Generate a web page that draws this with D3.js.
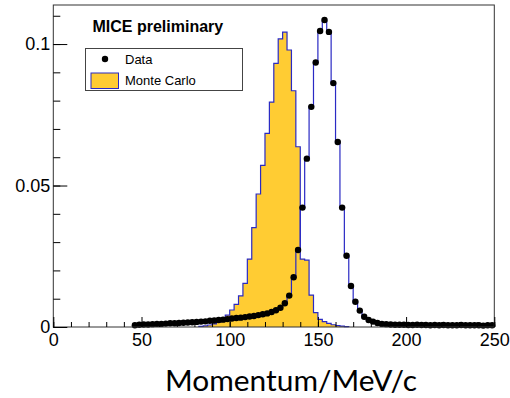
<!DOCTYPE html>
<html>
<head>
<meta charset="utf-8">
<script src="https://cdn.jsdelivr.net/npm/d3@7/dist/d3.min.js"></script>
<style>
  html, body { margin: 0; padding: 0; background: #fff; }
  svg { display: block; }
</style>
</head>
<body>
<svg id="chart" width="510" height="398"></svg>
<script>
// ---- Histogram binning (MeV/c) ----
const BIN_WIDTH = 2.5;
const DATA_FIRST_BIN = 45;      // low edge of the first filled data bin
const MC_FIRST_BIN = 82.5;      // low edge of the first filled Monte Carlo bin

// Normalised data counts, one per 2.5 MeV/c bin starting at DATA_FIRST_BIN
const dataValues = [
  0.0006, 0.0008, 0.0009, 0.0009, 0.0010, 0.0011, 0.0011, 0.0012, 0.0013, 0.0013,
  0.0014, 0.0015, 0.0016, 0.0017, 0.0018, 0.0019, 0.0020, 0.0022, 0.0023, 0.0025,
  0.0026, 0.0028, 0.0030, 0.0032, 0.0033, 0.0035, 0.0037, 0.0039, 0.0042, 0.0045,
  0.0048, 0.0053, 0.0059, 0.0068, 0.0084, 0.0111, 0.0176, 0.0272, 0.0422, 0.0595,
  0.0778, 0.0935, 0.1046, 0.1085, 0.1043, 0.0862, 0.0654, 0.0422, 0.0252, 0.0145,
  0.0089, 0.0058, 0.0036, 0.0025, 0.0019, 0.0014, 0.0011, 0.0010, 0.0009, 0.0008,
  0.0008, 0.0008, 0.0007, 0.0007, 0.0008, 0.0007, 0.0007, 0.0006, 0.0007, 0.0006,
  0.0007, 0.0006, 0.0006, 0.0006, 0.0007, 0.0006, 0.0006, 0.0006, 0.0006, 0.0005,
  0.0006, 0.0006
];

// Normalised Monte Carlo counts, one per bin starting at MC_FIRST_BIN
const mcValues = [
  0.0002, 0.0004, 0.0007, 0.0011, 0.0018, 0.0028, 0.0042, 0.0060, 0.0080, 0.0110,
  0.0154, 0.0240, 0.0351, 0.0470, 0.0571, 0.0684, 0.0795, 0.0932, 0.1018, 0.1042,
  0.0979, 0.0835, 0.0637, 0.0240, 0.0236, 0.0113, 0.0051, 0.0027, 0.0019, 0.0013,
  0.0008, 0.0005, 0.0003, 0.0001
];

// ---- Axes ----
const xDomain = [0, 250];
const yDomain = [0, 0.1138];
const xMajorTicks = [0, 50, 100, 150, 200, 250];
const xTickLabels = ["0", "50", "100", "150", "200", "250"];
const xMinorTicks = [0, 10, 20, 30, 40, 50, 60, 70, 80, 90, 100, 110, 120, 130, 140, 150,
                     160, 170, 180, 190, 200, 210, 220, 230, 240, 250];
const yMajorTicks = [0, 0.05, 0.1];
const yTickLabels = ["0", "0.05", "0.1"];
const yMinorTicks = [0, 0.01, 0.02, 0.03, 0.04, 0.05, 0.06, 0.07, 0.08, 0.09, 0.1, 0.11];

const xTitle = "Momentum/MeV/c";
const watermark = "MICE preliminary";
const legendLabels = ["Data", "Monte Carlo"];

// ---- Style ----
const MC_FILL = "#ffcc33";
const HIST_LINE = "#2a2ac4";
const AXIS_FONT = "'Liberation Sans', Arial, Helvetica, sans-serif";

const plot = { left: 53.3, right: 494.3, top: 5, bottom: 327 };

const svg = d3.select("#chart");

const x = d3.scaleLinear().domain(xDomain).range([plot.left, plot.right]);
const y = d3.scaleLinear().domain(yDomain).range([plot.bottom, plot.top]);

// Turn a list of bin contents into the corner points of a step outline
function stepPoints(firstEdge, values) {
  const pts = [[firstEdge, 0]];
  values.forEach((v, i) => {
    const lo = firstEdge + i * BIN_WIDTH;
    pts.push([lo, v], [lo + BIN_WIDTH, v]);
  });
  pts.push([firstEdge + values.length * BIN_WIDTH, 0]);
  return pts;
}

const line = d3.line().x(d => x(d[0])).y(d => y(d[1]));
const area = d3.area().x(d => x(d[0])).y0(y(0)).y1(d => y(d[1]));

const mcPts = stepPoints(MC_FIRST_BIN, mcValues);
const dataPts = stepPoints(DATA_FIRST_BIN, dataValues);

// Monte Carlo: filled histogram with blue outline
svg.append("path").attr("d", area(mcPts)).attr("fill", MC_FILL);
svg.append("path").attr("d", line(mcPts))
  .attr("fill", "none").attr("stroke", HIST_LINE).attr("stroke-width", 1.2);

// Data: blue step outline
svg.append("path").attr("d", line(dataPts))
  .attr("fill", "none").attr("stroke", HIST_LINE).attr("stroke-width", 1.2);

// Data markers at bin centres
svg.append("g").selectAll("circle")
  .data(dataValues)
  .join("circle")
  .attr("cx", (v, i) => x(DATA_FIRST_BIN + (i + 0.5) * BIN_WIDTH))
  .attr("cy", v => y(v))
  .attr("r", 3.2)
  .attr("fill", "#000");

// ---- Frame ----
svg.append("rect")
  .attr("x", plot.left).attr("y", plot.top)
  .attr("width", plot.right - plot.left).attr("height", plot.bottom - plot.top)
  .attr("fill", "none").attr("stroke", "#333").attr("stroke-width", 1);

// ---- Axes (ticks point into the frame) ----
function styleAxis(g) {
  g.select(".domain").remove();
  g.selectAll(".tick line").attr("stroke", "#000").attr("stroke-width", 1);
  g.selectAll(".tick text").attr("fill", "#000")
    .style("font-family", AXIS_FONT).style("font-size", "18px");
}

svg.append("g")
  .attr("transform", `translate(0,${plot.bottom})`)
  .call(d3.axisBottom(x).tickValues(xMinorTicks).tickSize(-5).tickFormat(""))
  .call(styleAxis);
svg.append("g")
  .attr("transform", `translate(0,${plot.bottom})`)
  .call(d3.axisBottom(x).tickValues(xMajorTicks).tickSize(-10).tickPadding(6)
    .tickFormat((d, i) => xTickLabels[i]))
  .call(styleAxis);

svg.append("g")
  .attr("transform", `translate(${plot.left},0)`)
  .call(d3.axisLeft(y).tickValues(yMinorTicks).tickSize(-7).tickFormat(""))
  .call(styleAxis);
svg.append("g")
  .attr("transform", `translate(${plot.left},0)`)
  .call(d3.axisLeft(y).tickValues(yMajorTicks).tickSize(-14).tickPadding(3)
    .tickFormat((d, i) => yTickLabels[i]))
  .call(styleAxis);

// ---- Axis title ----
const title = svg.append("text")
  .attr("x", 291).attr("y", 391)
  .attr("text-anchor", "middle")
  .style("font-family", "Lato, 'Open Sans', sans-serif")
  .style("font-size", "30px")
  .attr("fill", "#000")
  .text(xTitle);
// keep the title's width at about 252px whatever the fallback font
const tw = title.node().getComputedTextLength();
if (tw > 0) title.style("font-size", (30 * 252 / tw).toFixed(2) + "px");

// ---- Watermark ----
svg.append("text")
  .attr("x", 92.5).attr("y", 32.3)
  .style("font-family", AXIS_FONT).style("font-size", "16px").style("font-weight", "bold")
  .attr("fill", "#000")
  .text(watermark);

// ---- Legend ----
const legend = svg.append("g");
legend.append("rect")
  .attr("x", 85.5).attr("y", 48.5).attr("width", 157).attr("height", 42)
  .attr("fill", "#fff").attr("stroke", "#444").attr("stroke-width", 1);
legend.append("circle").attr("cx", 105).attr("cy", 59).attr("r", 3.2).attr("fill", "#000");
legend.append("rect")
  .attr("x", 91).attr("y", 73).attr("width", 27.5).attr("height", 15.5)
  .attr("fill", MC_FILL).attr("stroke", HIST_LINE).attr("stroke-width", 1);
legend.selectAll("text.lbl")
  .data(legendLabels)
  .join("text")
  .attr("class", "lbl")
  .attr("x", 125)
  .attr("y", (d, i) => [59, 80.5][i])
  .attr("dy", "0.35em")
  .style("font-family", AXIS_FONT).style("font-size", "13px")
  .attr("fill", "#000")
  .text(d => d);
</script>
</body>
</html>
